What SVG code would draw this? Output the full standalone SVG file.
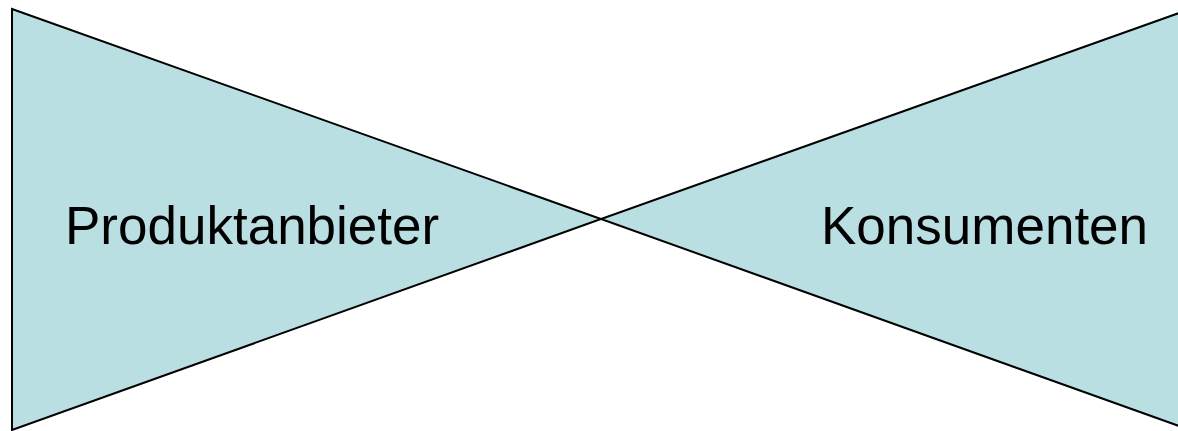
<svg xmlns="http://www.w3.org/2000/svg" width="1178" height="431" viewBox="0 0 1178 431">
  <style>
    .wedge { fill: #b9dfe3; stroke: #000; stroke-width: 2; stroke-linejoin: miter; }
    .label { font-family: "Liberation Sans", Arial, sans-serif; font-size: 53px; fill: #000; }
  </style>
  <rect width="1178" height="431" fill="#fff"/>
  <g id="produktanbieter">
    <polygon class="wedge" points="12,9 601,219 12,430"/>
    <text class="label" x="65" y="244">Produktanbieter</text>
  </g>
  <g id="konsumenten">
    <polygon class="wedge" points="1179,13 601,219 1179,426"/>
    <text class="label" x="821" y="244">Konsumenten</text>
  </g>
  <g id="connectors"></g>
</svg>
